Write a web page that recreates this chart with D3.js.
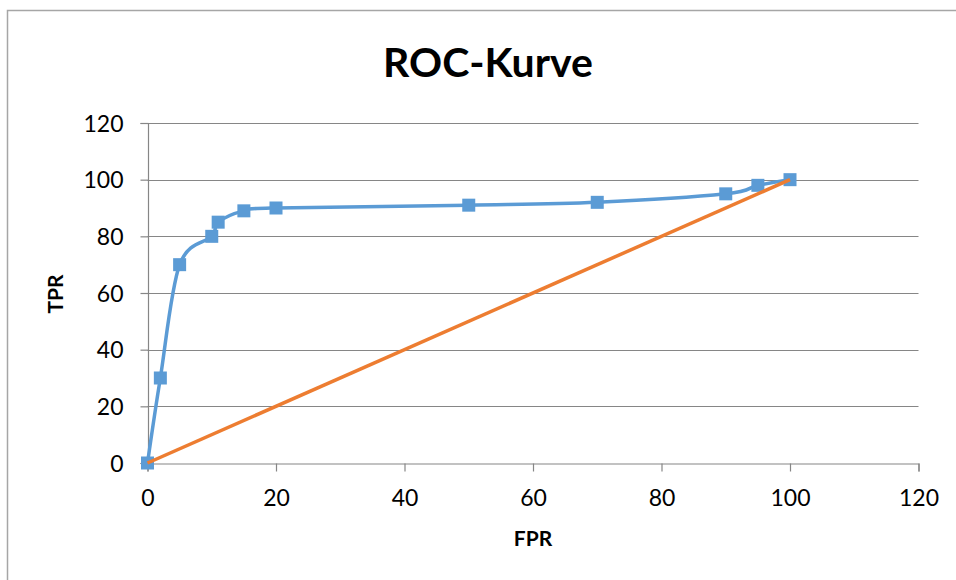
<!DOCTYPE html>
<html>
<head>
<meta charset="utf-8">
<script src="https://cdn.jsdelivr.net/npm/d3@7"></script>
<style>
  html, body { margin: 0; padding: 0; background: #fff; }
  svg { display: block; }
</style>
</head>
<body>
<svg id="chart" width="956" height="580"></svg>
<script>
// ---- data ----
const fpr = [0, 2, 5, 10, 11, 15, 20, 50, 70, 90, 95, 100];
const tpr = [0, 30, 70, 80, 85, 89, 90, 91, 92, 95, 98, 100];
const diagX = [0, 100];
const diagY = [0, 100];
const xTicks = [0, 20, 40, 60, 80, 100, 120];
const yTicks = [0, 20, 40, 60, 80, 100, 120];
const titleText = "ROC-Kurve";
const xTitle = "FPR";
const yTitle = "TPR";

const svg = d3.select("#chart");
const FONT = "Lato, Calibri, 'Open Sans', sans-serif";
const GRID = "#868686";

// outer chart border (only top/left visible in the crop)
svg.append("rect")
  .attr("x", 7.5).attr("y", 10.5)
  .attr("width", 1200).attr("height", 1200)
  .attr("fill", "none").attr("stroke", "#a6a6a6").attr("stroke-width", 1.5);

const x = d3.scaleLinear().domain([0, 120]).range([147.5, 918.5]);
const y = d3.scaleLinear().domain([0, 120]).range([463, 123]);

// gridlines
svg.append("g").selectAll("line")
  .data(yTicks.filter(d => d > 0))
  .join("line")
  .attr("x1", x(0)).attr("x2", x(120))
  .attr("y1", d => Math.round(y(d)) + 0.5).attr("y2", d => Math.round(y(d)) + 0.5)
  .attr("stroke", GRID).attr("stroke-width", 1);

// axes
const xAxis = d3.axisBottom(x).tickValues(xTicks).tickSize(8).tickPadding(18).tickFormat(d3.format("d"));
const yAxis = d3.axisLeft(y).tickValues(yTicks).tickSize(8).tickPadding(17).tickFormat(d3.format("d"));

const gx = svg.append("g").attr("transform", `translate(0,${Math.round(y(0)) + 0.5})`).call(xAxis);
const gy = svg.append("g").attr("transform", `translate(${Math.round(x(0)) + 0.5},0)`).call(yAxis);

[gx, gy].forEach(g => {
  g.select(".domain").attr("stroke", GRID).attr("stroke-width", 1.2);
  g.selectAll(".tick line").attr("stroke", GRID).attr("stroke-width", 1.2);
  g.selectAll(".tick text")
    .attr("fill", "#000")
    .style("font-family", FONT)
    .style("font-size", "23px");
});
gy.select(".domain").attr("d", `M-8,${Math.round(y(120))+0.5}H0V${Math.round(y(0))+0.5}H-8`);
gx.selectAll(".tick text").attr("dy", "0.71em");
gy.selectAll(".tick text").attr("dy", "0.36em");

// blue smooth ROC curve
const pts = fpr.map((f, i) => [f, tpr[i]]);
const line = d3.line()
  .x(d => x(d[0])).y(d => y(d[1]))
  .curve(d3.curveCardinal.tension(0));

svg.append("path")
  .attr("d", line(pts))
  .attr("fill", "none")
  .attr("stroke", "#5b9bd5")
  .attr("stroke-width", 3.5)
  .attr("stroke-linejoin", "round");

const MS = 13;
svg.append("g").selectAll("rect")
  .data(pts)
  .join("rect")
  .attr("x", d => x(d[0]) - MS / 2)
  .attr("y", d => y(d[1]) - MS / 2)
  .attr("width", MS).attr("height", MS)
  .attr("fill", "#5b9bd5");

// orange diagonal
const diag = diagX.map((v, i) => [v, diagY[i]]);
svg.append("path")
  .attr("d", d3.line().x(d => x(d[0])).y(d => y(d[1]))(diag))
  .attr("fill", "none")
  .attr("stroke", "#ed7d31")
  .attr("stroke-width", 3.5);

// title
const t = svg.append("text")
  .attr("x", 488).attr("y", 77)
  .attr("text-anchor", "middle")
  .style("font-family", FONT)
  .style("font-weight", "bold")
  .style("font-size", "40px")
  .attr("fill", "#000")
  .text(titleText);
const tw = t.node().getComputedTextLength();
if (tw > 0) t.style("font-size", (40 * 210 / tw).toFixed(1) + "px");

// axis titles
svg.append("text")
  .attr("x", 533).attr("y", 546)
  .attr("text-anchor", "middle")
  .style("font-family", FONT).style("font-weight", "bold").style("font-size", "21px")
  .attr("fill", "#000")
  .text(xTitle);

svg.append("text")
  .attr("transform", "translate(63,294) rotate(-90)")
  .attr("text-anchor", "middle")
  .style("font-family", FONT).style("font-weight", "bold").style("font-size", "21px")
  .attr("fill", "#000")
  .text(yTitle);
</script>
</body>
</html>
